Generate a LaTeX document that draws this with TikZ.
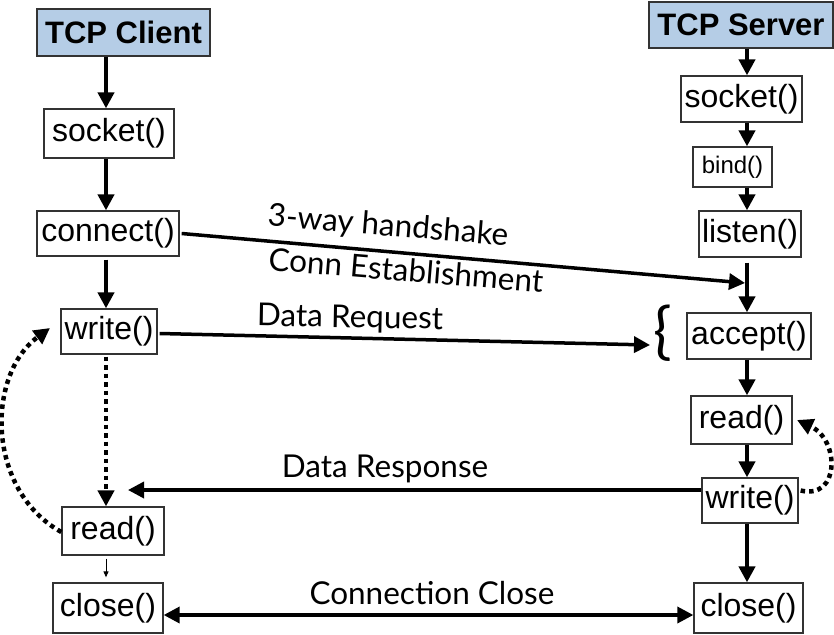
\documentclass[tikz,border=0pt]{standalone}
\usepackage{fontspec}
\setmainfont{Liberation Sans}
\newfontfamily\gillfont{Lato}
\usetikzlibrary{arrows.meta,positioning,calc}
\definecolor{headblue}{RGB}{181,205,230}

\tikzset{
  fnbox/.style={draw=black!80, line width=1.3pt, inner sep=0pt, fill=white,
    font=\fontsize{32}{38}\selectfont},
  hdbox/.style={fnbox, fill=headblue, font=\bfseries\fontsize{31}{36}\selectfont},
  flow/.style={line width=4pt, -{Triangle[length=16pt,width=16pt]}},
  msg/.style={line width=3.5pt, -{Triangle[length=16pt,width=16pt]}},
  dotflow/.style={line width=4.5pt, dash pattern=on 4.5pt off 4pt,
    -{Triangle[length=16pt,width=16pt]}},
  lbl/.style={font=\gillfont\fontsize{31.5}{36}\selectfont, inner sep=0pt}
}

\begin{document}
\begin{tikzpicture}[x=1pt, y=-1pt]
	\useasboundingbox (0,0) rectangle (834,634);
	
	% client side
	\coordinate (cx) at (106,0);
	\node[hdbox, minimum width=173pt, minimum height=47pt] (cHead) at (123.5,32.5) {TCP Client};
	\node[fnbox, minimum width=130pt, minimum height=49pt] (cSock) at (109,133.5) {socket()};
	\node[fnbox, minimum width=142pt, minimum height=45pt] (cConn) at (108,233.5) {connect()};
	\node[fnbox, minimum width=96pt, minimum height=45pt] (cWrite) at (109,331.5) {write()};
	\node[fnbox, minimum width=102pt, minimum height=48pt] (cRead) at (113,531) {read()};
	\node[fnbox, minimum width=110pt, minimum height=50pt] (cClose) at (108,608) {close()};
	
	\draw[flow] (cHead.south -| cx) -- (cSock.north -| cx);
	\draw[flow] (cSock.south -| cx) -- (cConn.north -| cx);
	\draw[flow, shorten <=3pt] (cConn.south -| cx) -- (cWrite.north -| cx);
	\draw[dotflow, shorten <=2pt] (cWrite.south -| cx) -- (cRead.north -| cx);
	\draw[line width=1pt, -{Triangle[length=6pt,width=5pt]}, shorten <=3pt, shorten >=5pt] (cRead.south -| cx) -- (cClose.north -| cx);
	\draw[dotflow] ([yshift=-1pt]cRead.west) .. controls (-14,490) and (-14,375) .. (50,328);
	
	% server side
	\coordinate (sx) at (747,0);
	\node[hdbox, minimum width=184pt, minimum height=46pt] (sHead) at (741,25) {TCP Server};
	\node[fnbox, minimum width=121pt, minimum height=46pt] (sSock) at (741.5,99) {socket()};
	\node[fnbox, minimum width=79pt, minimum height=40pt, font=\fontsize{24}{28}\selectfont] (sBind) at (732.5,167) {bind()};
	\node[fnbox, minimum width=102pt, minimum height=46pt] (sListen) at (750,234) {listen()};
	\node[fnbox, minimum width=124pt, minimum height=46pt] (sAccept) at (749,336) {accept()};
	\node[fnbox, minimum width=101pt, minimum height=48pt] (sRead) at (741.5,420) {read()};
	\node[fnbox, minimum width=96pt, minimum height=45pt] (sWrite) at (750,500.5) {write()};
	\node[fnbox, minimum width=109pt, minimum height=50pt] (sClose) at (748.5,608) {close()};
	
	\draw[flow] (sHead.south -| sx) -- (sSock.north -| sx);
	\draw[flow] (sSock.south -| sx) -- (sBind.north -| sx);
	\draw[flow] (sBind.south -| sx) -- (sListen.north -| sx);
	\draw[flow, shorten <=5pt] (sListen.south -| sx) -- (sAccept.north -| sx);
	\draw[flow] (sAccept.south -| sx) -- (sRead.north -| sx);
	\draw[flow] (sRead.south -| sx) -- (sWrite.north -| sx);
	\draw[flow] (sWrite.south -| sx) -- (sClose.north -| sx);
	\draw[dotflow] ([xshift=2pt,yshift=10pt]sWrite.east) .. controls (840,500) and (840,440) .. (797,420);
	
	% messages between the two
	\coordinate (hs) at (745,283);
	\coordinate (dq) at (650,345);
	\coordinate (dr) at (128,490);
	\coordinate (cc) at (0,615);
	\node[lbl, font=\gillfont\fontsize{62}{62}\selectfont] (brace) at (663,333) {\{};
	
	\draw[msg] ([xshift=2pt]cConn.east) -- (hs);
	\draw[msg] ([xshift=2pt,yshift=-2pt]cWrite.east) -- (dq);
	\draw[msg] (sWrite.west |- dr) -- (dr);
	\draw[msg, {Triangle[length=16pt,width=16pt]}-{Triangle[length=16pt,width=16pt]}] (cClose.east |- cc) -- (sClose.west |- cc);
	
	\node[lbl, rotate=-4.7] (hsTop) at (388,227) {3-way handshake};
	\node[lbl, rotate=-4.7] (hsBot) at (406,270) {Conn Establishment};
	\node[lbl, rotate=-1] (dqLbl) at (350,319) {Data Request};
	\node[lbl] (drLbl) at (385,469) {Data Response};
	\node[lbl] (ccLbl) at (432,593) {Connection Close};
\end{tikzpicture}
\end{document}
